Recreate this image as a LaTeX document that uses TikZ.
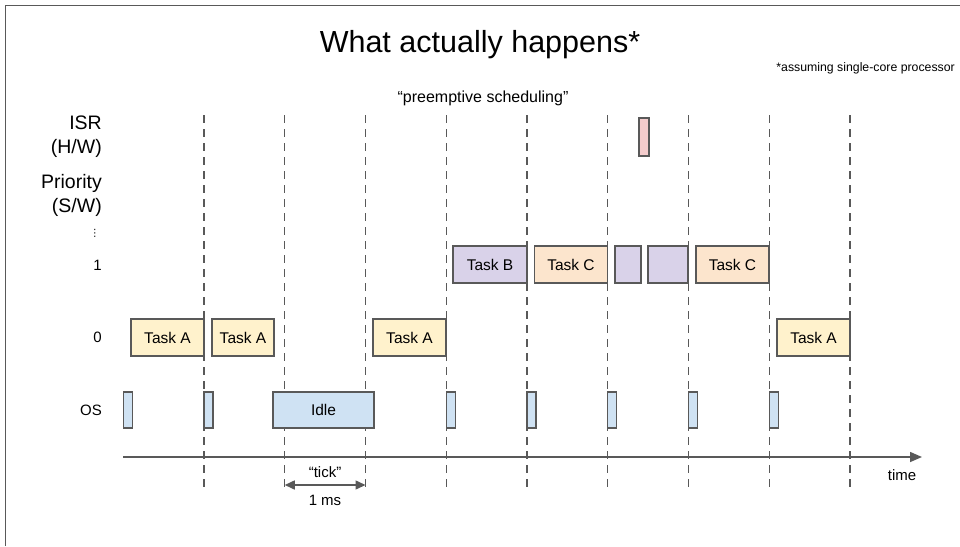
\documentclass[tikz,border=0pt]{standalone}
\usepackage{fontspec}
\setmainfont{Liberation Sans}
\newfontfamily\symfont{DejaVu Sans}
\usepackage{tikz}
\usetikzlibrary{positioning, arrows.meta, calc}

\definecolor{edgegray}{HTML}{595959}
\definecolor{yellowA}{HTML}{FFF2CC}
\definecolor{purpleB}{HTML}{D9D2E9}
\definecolor{orangeC}{HTML}{FCE5CD}
\definecolor{blueOS}{HTML}{CFE2F3}
\definecolor{redISR}{HTML}{F4CCCC}

\begin{document}
\begin{tikzpicture}[x=1pt, y=-1pt,
    box/.style={draw=edgegray, line width=1.4pt, inner sep=0pt, font=\fontsize{15.5}{17}\selectfont},
    taska/.style={box, fill=yellowA, minimum height=37pt},
    taskb/.style={box, fill=purpleB, minimum height=37pt},
    taskc/.style={box, fill=orangeC, minimum height=37pt},
    osbox/.style={box, fill=blueOS, minimum height=36pt, minimum width=9pt},
    slot/.style={draw=edgegray, line width=1.4pt, dash pattern=on 8pt off 6pt},
    rowlbl/.style={anchor=east, inner sep=0pt, font=\fontsize{19.5}{21}\selectfont},
    numlbl/.style={anchor=east, inner sep=0pt, font=\fontsize{15}{17}\selectfont}]

    \useasboundingbox (0,0) rectangle (960,546);
    \draw[edgegray, line width=1pt] (5,546) -- (5,5) -- (960,5);

    \node (title) at (480,45) {\fontsize{30.5}{34}\selectfont What actually happens*};
    \node[anchor=east, inner sep=0pt] (note) at (955,68) {\fontsize{12.3}{14}\selectfont *assuming single-core processor};
    \node (sched) at (483,98) {\fontsize{16}{18}\selectfont “preemptive scheduling”};

    \node[rowlbl] (isr) at (102,123) {ISR};
    \node[rowlbl] (hw) at (102,148) {(H/W)};
    \node[rowlbl] (prio) at (102,183) {Priority};
    \node[rowlbl] (sw) at (102,207) {(S/W)};
    \node[anchor=east, inner sep=0pt] (dots) at (100,233) {\fontsize{10}{11}\symfont ⋮};
    \node[numlbl] (one) at (102,265) {1};
    \node[numlbl] (zero) at (102,337.5) {0};
    \node[numlbl] (os) at (102,410) {OS};

    \coordinate (g0) at (204,115);
    \coordinate (g1) at (284.75,115);
    \coordinate (g2) at (365.5,115);
    \coordinate (g3) at (446.25,115);
    \coordinate (g4) at (527,115);
    \coordinate (g5) at (607.75,115);
    \coordinate (g6) at (688.5,115);
    \coordinate (g7) at (769.25,115);
    \coordinate (g8) at (850,115);
    \coordinate (bot) at (0,488);

    \draw[slot] (g0) -- (g0 |- bot);
    \draw[slot] (g1) -- (g1 |- bot);
    \draw[slot] (g2) -- (g2 |- bot);
    \draw[slot] (g3) -- (g3 |- bot);
    \draw[slot] (g4) -- (g4 |- bot);
    \draw[slot] (g5) -- (g5 |- bot);
    \draw[slot] (g6) -- (g6 |- bot);
    \draw[slot] (g7) -- (g7 |- bot);
    \draw[slot] (g8) -- (g8 |- bot);

    \node[box, fill=redISR, minimum width=10pt, minimum height=38pt] (irq) at (644,137) {};

    \node[taskb, minimum width=74pt] (b1) at (490,264.5) {Task B};
    \node[taskc, minimum width=73pt] (c1) at (571,264.5) {Task C};
    \node[taskb, minimum width=26pt] (b2) at (628,264.5) {};
    \node[taskb, minimum width=40pt] (b3) at (668,264.5) {};
    \node[taskc, minimum width=73pt] (c2) at (732.5,264.5) {Task C};

    \node[taska, minimum width=73pt] (a1) at (167.5,337.5) {Task A};
    \node[taska, minimum width=62pt] (a2) at (243,337.5) {Task A};
    \node[taska, minimum width=73pt] (a3) at (409.5,337.5) {Task A};
    \node[taska, minimum width=73pt] (a4) at (813.5,337.5) {Task A};

    \node[osbox] (os0) at (127.75,410) {};
    \node[osbox] (os1) at (208.5,410) {};
    \node[box, fill=blueOS, minimum width=101pt, minimum height=36pt] (idle) at (323.5,410) {Idle};
    \node[osbox] (os2) at (450.75,410) {};
    \node[osbox] (os3) at (531.5,410) {};
    \node[osbox] (os4) at (612.25,410) {};
    \node[osbox] (os5) at (693,410) {};
    \node[osbox] (os6) at (773.75,410) {};

    \coordinate (ax0) at (123,457);
    \coordinate (ax1) at (922,457);
    \draw[edgegray, line width=1.5pt, -{Triangle[length=12pt, width=10pt]}] (ax0) -- (ax1);
    \node[numlbl, anchor=center] (time) at (902,475) {time};

    \coordinate (tk) at (0,485);
    \draw[edgegray, line width=1.5pt, {Triangle[length=10pt, width=9pt]}-{Triangle[length=10pt, width=9pt]}] (g1 |- tk) -- (g2 |- tk);
    \node[numlbl, anchor=center] (tick) at (325,472) {“tick”};
    \node[numlbl, anchor=center] (ms) at (325,500) {1 ms};
\end{tikzpicture}
\end{document}
